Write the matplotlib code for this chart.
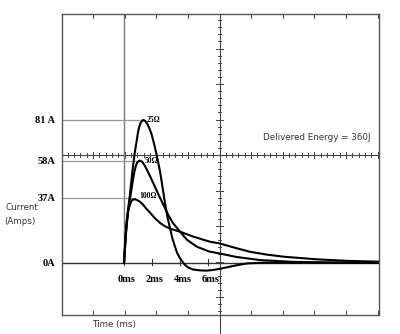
import numpy as np
import matplotlib
matplotlib.use('Agg')
import matplotlib.pyplot as plt

# values (time in ms, current in A)
t_25 = [0, 0.06, 0.12, 0.2, 0.3, 0.4, 0.52, 0.64, 0.76, 0.88, 1.0, 1.1, 1.2, 1.36, 1.5, 1.65,
        1.8, 1.95, 2.1, 2.31, 2.57, 2.75, 2.93, 3.1, 3.29, 3.45, 3.64, 3.8, 4.0, 4.2, 4.36,
        4.6, 4.95, 5.5, 5.9, 6.4, 7.0, 7.6, 8.2, 8.8, 10.0, 18.2]
i_25 = [0, 7, 15, 23, 31, 37, 46, 54.5, 62, 67.8, 74, 77.5, 79.6, 81, 80.6, 79,
        76.5, 73.4, 69, 62, 52, 43, 33.7, 26, 19.5, 14, 9.1, 5.5, 2.5, 0.3, -1.3,
        -2.8, -3.9, -4.4, -4.5, -4.1, -3.2, -2.2, -1.2, -0.4, 0, 0]

t_50 = [0, 0.06, 0.12, 0.2, 0.3, 0.4, 0.52, 0.64, 0.75, 0.85, 0.95, 1.12, 1.3, 1.45, 1.6,
        1.85, 2.1, 2.5, 2.93, 3.2, 3.5, 4.0, 4.5, 5.2, 6.1, 6.8, 8.0, 9.7, 12.0, 15.0, 18.2]
i_50 = [0, 7, 14, 22, 29, 35, 41, 47, 52, 55, 57, 58, 57.3, 55.5, 53.3,
        49.3, 45, 38, 31, 26.5, 22.5, 17.6, 13, 9.1, 6.3, 5.3, 3.3, 1.5, 0.5, 0.1, 0]

t_100 = [0, 0.06, 0.12, 0.2, 0.3, 0.45, 0.55, 0.65, 0.76, 0.9, 1.14, 1.35, 1.6, 1.86, 2.2,
         2.57, 2.9, 3.29, 4.0, 4.95, 6.14, 6.8, 8.0, 9.0, 10.2, 11.4, 13.8, 16.1, 18.2]
i_100 = [0, 9, 17, 24, 29.5, 33.5, 35.2, 35.9, 36, 35.7, 34.6, 33, 30.6, 28.4, 25.3,
         22.6, 20.8, 19.3, 17.6, 14.8, 11.9, 11.0, 8.3, 6.2, 4.6, 3.4, 1.9, 1.0, 0.6]

level_vals = [81, 58, 37]
level_ends = [1.36, 1.12, 0.76]
ytick_vals = [0, 37, 58, 81]
ytick_labels = ['0A', '37A', '58A', '81 A']
xtick_vals = [0, 2, 4, 6]
xtick_labels = ['0ms', '2ms', '4ms', '6ms']

W, H = 400, 334
fig = plt.figure(figsize=(W / 100, H / 100), dpi=100)
ax = fig.add_axes([62 / W, 19 / H, 317 / W, 301 / H])

# pixel -> data helpers (0 ms at x=124 px, 14 px per ms; 0 A at y=262.7 px, 1.762 px per A)
def pt(x):
    return (x - 124) / 14.0

def pi(y):
    return (262.7 - y) / 1.762

x0, x1 = pt(62), pt(379)
y0, y1 = pi(315), pi(14)
ax.set_xlim(x0, x1)
ax.set_ylim(y0, y1)
for s in ax.spines.values():
    s.set_color('#555555')
    s.set_linewidth(1.0)

grid_c = '#444444'
# centre cross of the scope graticule
tc, ic = pt(219.5), pi(155)
ax.plot([tc, tc], [pi(334), y1], color=grid_c, lw=0.8, clip_on=False)
ax.plot([x0, x1], [ic, ic], color=grid_c, lw=0.8)
for k in range(-25, 26):
    tt = tc + k * 6.32 / 14.0
    if x0 < tt < x1:
        h = 1.6 if k % 5 == 0 else 0.9
        ax.plot([tt, tt], [ic - h, ic + h], color=grid_c, lw=0.7)
for k in range(-25, 26):
    ii = ic + k * 7.1 / 1.762
    if y0 < ii < y1:
        w = 0.22 if k % 5 == 0 else 0.12
        ax.plot([tc - w, tc + w], [ii, ii], color=grid_c, lw=0.7)
# frame ticks
for k in range(-4, 6):
    tt = tc + k * 31.6 / 14.0
    ax.plot([tt, tt], [y1, y1 - 2.3], color=grid_c, lw=0.7)
    ax.plot([tt, tt], [y0, y0 + 2.3], color=grid_c, lw=0.7)

# t = 0 line, baseline and level lines
ax.plot([0, 0], [0, y1], color='#777777', lw=1.0)
ax.plot([x0, x1], [0, 0], color='#333333', lw=1.0)
for tv in xtick_vals:
    ax.plot([tv, tv], [-1.2, 2.3], color='#333333', lw=0.8)
for lv, le in zip(level_vals, level_ends):
    ax.plot([x0, le], [lv, lv], color='#999999', lw=0.9)

# current traces
for tt, ii in [(t_25, i_25), (t_50, i_50), (t_100, i_100)]:
    ax.plot(tt, ii, color='black', lw=1.5, solid_joinstyle='round')

ax.set_xticks([])
ax.set_yticks(ytick_vals)
ax.set_yticklabels(ytick_labels, family='Liberation Serif', fontsize=7.5, fontweight='bold')
ax.tick_params(axis='y', length=0, pad=5)

for tv, lab in zip(xtick_vals, xtick_labels):
    ax.text(tv + 0.2, pi(280), lab, ha='center', va='center', family='Liberation Serif',
            fontsize=7.5, fontweight='bold')

small = dict(family='Liberation Serif', fontsize=5.5, fontweight='bold', va='center', ha='left')
ax.text(pt(147), pi(120), '25Ω', **small)
ax.text(pt(145), pi(161), '50Ω', **small)
ax.text(pt(139), pi(196), '100Ω', **small)

ax.text(pt(263), pi(138), 'Delivered Energy = 360J', ha='left', va='center',
        family='DejaVu Sans', fontsize=6.3, color='#333333')
fig.text(5 / W, 1 - 208 / H, 'Current', ha='left', va='center', family='DejaVu Sans',
         fontsize=6.3, color='#333333')
fig.text(4 / W, 1 - 221 / H, '(Amps)', ha='left', va='center', family='DejaVu Sans',
         fontsize=6.3, color='#333333')
fig.text(92 / W, 1 - 325 / H, 'Time (ms)', ha='left', va='center', family='DejaVu Sans',
         fontsize=6.3, color='#333333')

fig.savefig('out.png', dpi=100)
